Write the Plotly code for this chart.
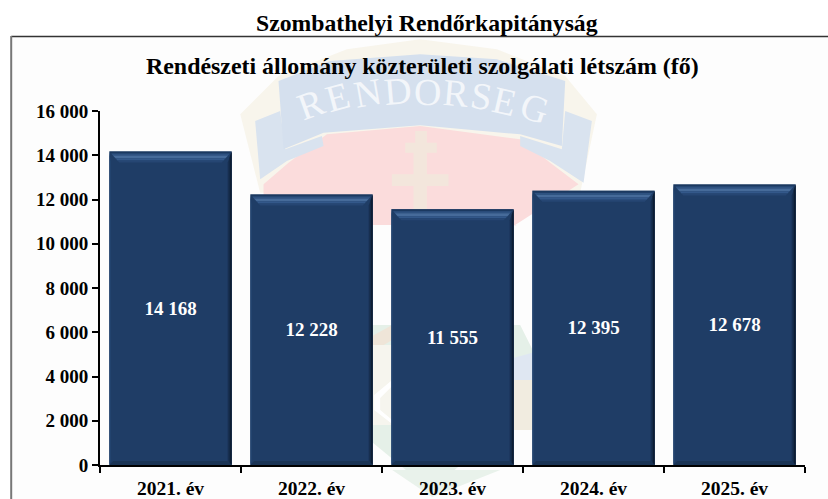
import plotly.graph_objects as go

categories = ["2021. év", "2022. év", "2023. év", "2024. év", "2025. év"]
values = [14168, 12228, 11555, 12395, 12678]
labels = ["14 168", "12 228", "11 555", "12 395", "12 678"]
tick_values = [0, 2000, 4000, 6000, 8000, 10000, 12000, 14000, 16000]
tick_labels = ["0", "2 000", "4 000", "6 000", "8 000", "10 000", "12 000", "14 000", "16 000"]
crest_word = list("RENDORSEG")

FONT = "Liberation Serif"
BAR = "#1f3d66"
W = 828; H = 499
L, R, T, B = 99.8, 804.8, 111, 465
BARW = 0.868
px_x = len(categories) / (R - L)
px_y = 16000 / (B - T)


def px(x):
    return (x - L) / (R - L)


def py(y):
    return (B - y) / (B - T)


def poly(points, fillcolor):
    d = "M" + " L".join(f"{px(x):.4f},{py(y):.4f}" for x, y in points) + " Z"
    return dict(type="path", xref="paper", yref="paper", path=d, layer="below", line=dict(width=0), fillcolor=fillcolor)


def data_poly(points, fillcolor):
    d = "M" + " L".join(f"{x:.4f},{y:.2f}" for x, y in points) + " Z"
    return dict(type="path", xref="x", yref="y", path=d, layer="above", line=dict(width=0), fillcolor=fillcolor)


def z(points):
    """zoomed crest outline points to page pixels"""
    return [(230 + x / 3, 36 + y / 3) for x, y in points]


shapes = [
    poly([(12, 37), (828, 37), (828, 499), (12, 499)], "#fdfdfd"),
    # watermark crest: beige frame
    poly(z([(30, 235), (145, 120), (350, 40), (570, 10), (800, 40), (1005, 120), (1100, 235), (1050, 470), (90, 470)]), "#f8f5ec"),
    # red field
    poly(z([(100, 445), (175, 380), (290, 295), (570, 270), (870, 310), (960, 380), (1045, 445), (850, 570), (860, 567), (100, 567)]), "#fbdcdc"),
    # ribbon tails
    poly(z([(75, 255), (150, 225), (165, 340), (275, 300), (280, 330), (170, 375), (90, 430)]), "#d9e3ef"),
    poly(z([(1005, 225), (1085, 255), (1060, 440), (960, 375), (870, 330), (870, 300), (995, 340)]), "#d9e3ef"),
    # main ribbon
    poly(z([(145, 135), (300, 75), (570, 55), (800, 70), (1005, 135), (995, 330), (870, 295), (570, 268), (280, 290), (160, 340)]), "#d5e0ee"),
    # cross
    poly(z([(555, 285), (590, 285), (590, 320), (620, 320), (620, 350), (590, 350), (590, 415), (655, 415), (655, 450), (590, 450), (590, 570), (550, 570), (550, 450), (485, 450), (485, 415), (550, 415), (550, 350), (525, 350), (525, 320), (555, 320)]), "#f3e6dc"),
    # lower crest parts seen between the bars
    poly([(345, 325), (520, 325), (535, 355), (515, 420), (430, 490), (345, 420)], "#e5f0e8"),
    poly([(372, 336), (392, 325), (392, 340), (372, 352)], "#efe5d8"),
    poly([(513, 358), (535, 352), (535, 412), (513, 412)], "#dfe7f2"),
    poly([(513, 380), (533, 380), (533, 430), (513, 430)], "#f1ece0"),
    poly([(372, 345), (392, 345), (392, 425), (372, 425)], "#f6f5ee"),
    poly([(374, 395), (392, 380), (392, 386), (380, 398), (380, 410), (392, 420), (392, 424), (374, 410)], "#ffffff"),
    poly([(392, 470), (500, 470), (432, 497)], "#e9f2eb"),
]

for i, v in enumerate(values):
    x0, x1 = i - BARW / 2, i + BARW / 2
    dx = 10 * px_x
    dy = 11 * px_y
    side = 4 * px_x
    bottom = 4 * px_y

    def band(a, b, color):
        return data_poly([(x0 + dx * a, v - dy * a), (x1 - dx * a, v - dy * a), (x1 - dx * b, v - dy * b), (x0 + dx * b, v - dy * b)], color)

    shapes += [
        # top facet graded in bands
        band(0.0, 0.18, "#1b3960"),
        band(0.18, 0.36, "#2e5281"),
        band(0.36, 0.62, "#466b9a"),
        band(0.62, 0.82, "#33588a"),
        band(0.82, 1.0, "#264673"),
        # right facet
        data_poly([(x1, v), (x1, 0), (x1 - side, bottom), (x1 - side, v - dy)], "#172f50"),
        data_poly([(x1, v), (x1, 0), (x1 - side * 0.5, bottom * 0.5), (x1 - side * 0.5, v - dy * 0.5)], "#0d1d33"),
        # left facet
        data_poly([(x0, v), (x0, 0), (x0 + side * 0.4, bottom), (x0 + side * 0.4, v - dy)], "#234570"),
        # bottom facet
        data_poly([(x0, 0), (x1, 0), (x1 - side, bottom), (x0 + side, bottom)], "#1a3455"),
    ]

fig = go.Figure(go.Bar(
    x=categories, y=values, width=BARW,
    marker=dict(color=BAR, line=dict(width=0)),
    text=labels, textposition="inside", insidetextanchor="middle", textangle=0,
    textfont=dict(family=FONT, size=19, color="white", weight="bold"),
    hoverinfo="skip",
))

shapes += [
    dict(type="line", xref="paper", yref="paper", x0=px(11), x1=px(828), y0=py(36.5), y1=py(36.5), line=dict(color="#333333", width=1.5), layer="above"),
    dict(type="line", xref="paper", yref="paper", x0=px(11), x1=px(11), y0=py(499), y1=py(36), line=dict(color="#777777", width=2), layer="above"),
]

# crest lettering, each letter follows the ribbon's arc
letter_x = [311, 337, 367, 397, 427, 456, 481, 504, 534]
letter_y = [104, 97, 93, 91, 92, 93, 96, 101, 108]
letter_r = [-20, -15, -10, -5, 1, 5, 9, 13, 18]
annotations = [
    dict(text=c, xref="paper", yref="paper", x=px(a), y=py(b), textangle=r, xanchor="center", yanchor="middle",
         showarrow=False, font=dict(size=38, family=FONT, color="#f3f6fa"))
    for c, a, b, r in zip(crest_word, letter_x, letter_y, letter_r)
]
annotations += [
    dict(text="<b>Szombathelyi Rendőrkapitányság</b>", xref="paper", yref="paper", x=px(427), y=py(23), xanchor="center", yanchor="middle", showarrow=False, font=dict(size=23.7, family=FONT)),
    dict(text="<b>Rendészeti állomány közterületi szolgálati létszám (fő)</b>", xref="paper", yref="paper", x=px(422), y=py(66), xanchor="center", yanchor="middle", showarrow=False, font=dict(size=23.9, family=FONT)),
]

fig.update_layout(
    width=W, height=H, margin=dict(l=L, r=W - R, t=T, b=H - B, autoexpand=False),
    paper_bgcolor="white", plot_bgcolor="rgba(0,0,0,0)", showlegend=False,
    font=dict(family=FONT, color="black"), shapes=shapes, annotations=annotations,
    xaxis=dict(type="category", tickson="boundaries", showgrid=False, zeroline=False, showline=True, linecolor="black", linewidth=2, ticks="outside", ticklen=6, tickwidth=2, tickcolor="black", ticklabelstandoff=5, tickfont=dict(family=FONT, size=19.5, weight="bold"), fixedrange=True),
    yaxis=dict(range=[0, 16000], tickmode="array", tickvals=tick_values, ticktext=tick_labels, showgrid=False, zeroline=False, showline=True, linecolor="black", linewidth=2, ticks="outside", ticklen=6, tickwidth=2, tickcolor="black", tickfont=dict(family=FONT, size=19, weight="bold"), fixedrange=True),
)
fig.write_html("out.html", config={"displayModeBar": False}, post_script="document.body.style.margin='0';document.body.style.overflow='hidden';")
